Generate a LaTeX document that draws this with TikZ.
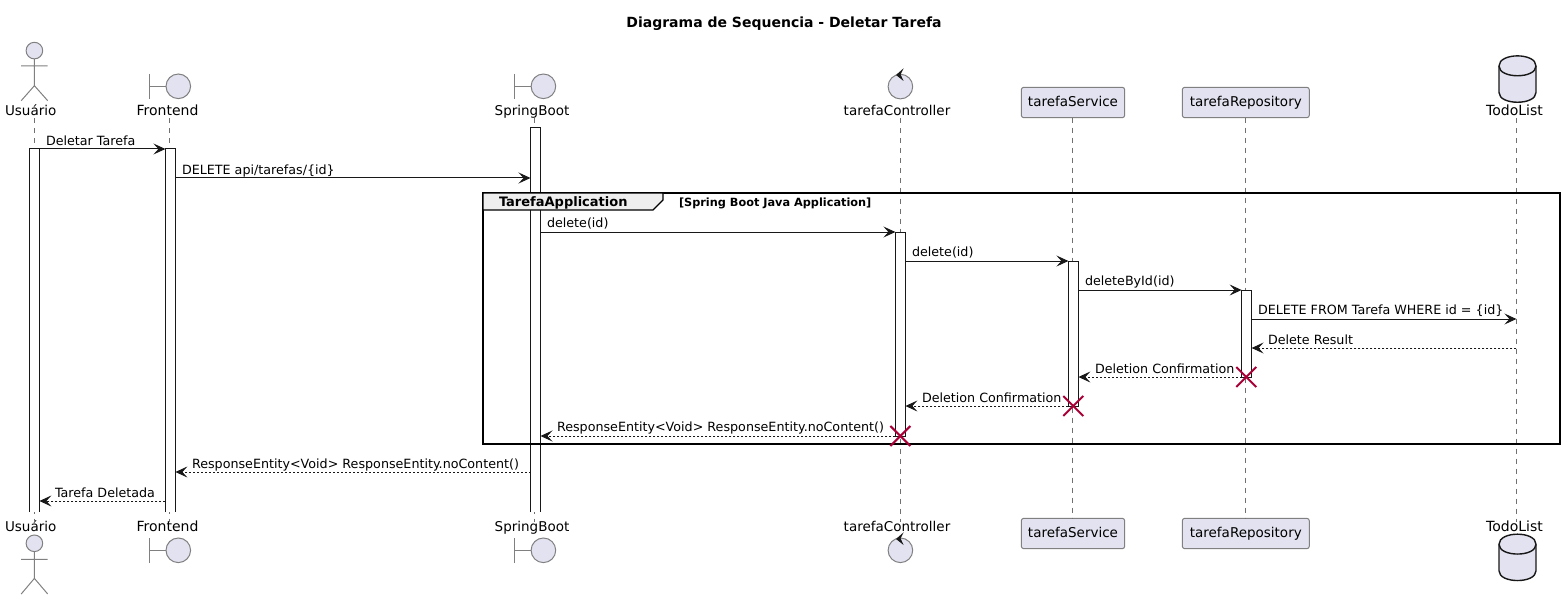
\documentclass[tikz,border=0pt]{standalone}
\usepackage{fontspec}
\setmainfont{DejaVu Sans}
\usetikzlibrary{arrows.meta}
\definecolor{partfill}{HTML}{E2E2F0}
\definecolor{partline}{HTML}{808080}
\definecolor{ink}{HTML}{181818}
\definecolor{lifegrey}{HTML}{707070}
\definecolor{killred}{HTML}{A80036}
\definecolor{tabfill}{HTML}{EEEEEE}
\tikzset{
  x=1pt,y=-1pt,
  every node/.style={inner sep=0pt,outer sep=0pt,text=black},
  parttext/.style={font=\fontsize{13.5}{16}\selectfont,anchor=base,text height=10pt,text depth=3pt},
  parttextwide/.style={parttext,font=\fontsize{14}{16}\selectfont},
  boxpart/.style={draw=partline,fill=partfill,rounded corners=2.5pt,line width=1pt,font=\fontsize{13.5}{16}\selectfont,anchor=center,text depth=2pt,text height=10pt},
  figline/.style={draw=partline,line width=1pt},
  figfill/.style={draw=partline,fill=partfill,line width=1pt},
  lifeline/.style={draw=lifegrey,line width=1pt,dash pattern=on 5pt off 5pt},
  bar/.style={draw=ink,fill=white,line width=1pt,minimum width=10pt,anchor=north},
  openbar/.style={fill=white,minimum width=10pt,anchor=north},
  barside/.style={draw=ink,line width=1pt},
  msg/.style={draw=ink,line width=1pt,-{Stealth[length=12pt,width=11pt,inset=5pt,color=ink]}},
  ret/.style={msg,dash pattern=on 2pt off 2pt},
  msgtext/.style={font=\fontsize{12.7}{15}\selectfont,anchor=base west},
  kill/.style={draw=killred,line width=2pt},
}
\begin{document}
\begin{tikzpicture}
\useasboundingbox (0,0) rectangle (1564,599);
\node[font=\fontsize{14}{16}\selectfont\bfseries,anchor=base] (title) at (784,28) {Diagrama de Sequencia - Deletar Tarefa};

% head labels and boxes
\node[parttext] (uT) at (30.7,115.5) {Usuário};
\node[parttextwide] (fT) at (167.5,115.5) {Frontend};
\node[parttext] (sT) at (532,115.5) {SpringBoot};
\node[parttext] (cT) at (897,115.5) {tarefaController};
\node[boxpart,minimum width=103.4pt,minimum height=30.4pt] (rT) at (1073,102.5) {tarefaService};
\node[boxpart,minimum width=127pt,minimum height=30.4pt] (pT) at (1245.8,102.5) {tarefaRepository};
\node[parttextwide] (dT) at (1514.5,115.5) {TodoList};
\node[parttext] (uB) at (30.7,531.5) {Usuário};
\node[parttextwide] (fB) at (167.5,531.5) {Frontend};
\node[parttext] (sB) at (532,531.5) {SpringBoot};
\node[parttext] (cB) at (897,531.5) {tarefaController};
\node[boxpart,minimum width=103.4pt,minimum height=30.4pt] (rB) at (1073,533.5) {tarefaService};
\node[boxpart,minimum width=127pt,minimum height=30.4pt] (pB) at (1245.8,533.5) {tarefaRepository};
\node[parttextwide] (dB) at (1514.5,531.5) {TodoList};

% lifelines
\coordinate (lU) at (34.4,0);
\coordinate (lF) at (169.4,0);
\coordinate (lS) at (534.4,0);
\coordinate (lC) at (900.4,0);
\coordinate (lR) at (1072.4,0);
\coordinate (lP) at (1245.4,0);
\coordinate (lD) at (1516.4,0);
\draw[lifeline] (lU|-uT.south) -- (lU|-uB.north);
\draw[lifeline] (lF|-fT.south) -- (lF|-fB.north);
\draw[lifeline] (lS|-sT.south) -- (lS|-sB.north);
\draw[lifeline] (lC|-cT.south) -- (lC|-cB.north);
\draw[lifeline] (lR|-rT.south) -- (lR|-rB.north);
\draw[lifeline] (lP|-pT.south) -- (lP|-pB.north);
\draw[lifeline] (lD|-dT.south) -- (lD|-dB.north);

% activation bars (the three outer ones stay open at the bottom)
\node[openbar,minimum height=363pt] (aU) at (34.4,149) {};
\draw[barside] (aU.south west) -- (aU.north west) -- (aU.north east) -- (aU.south east);
\node[openbar,minimum height=363pt] (aF) at (170.4,149) {};
\draw[barside] (aF.south west) -- (aF.north west) -- (aF.north east) -- (aF.south east);
\node[openbar,minimum height=384pt] (aS) at (535.5,128) {};
\draw[barside] (aS.south west) -- (aS.north west) -- (aS.north east) -- (aS.south east);
\node[bar,minimum height=204pt] (aC) at (900.4,232) {};
\node[bar,minimum height=145pt] (aR) at (1073.4,261) {};
\node[bar,minimum height=87pt] (aP) at (1246.6,290) {};

% group frame
\node[draw=black,line width=1.6pt,minimum width=1077pt,minimum height=251pt,anchor=north west] (grp) at (483,193) {};
\draw[draw=black,line width=1.4pt,fill=tabfill] (grp.north west) -- (663,193) -- (663,200) -- (653,210) -- (483,210) -- cycle;
\node[font=\fontsize{13}{15}\selectfont\bfseries,anchor=base west] (grpT) at (499,207) {TarefaApplication};
\node[font=\fontsize{11.3}{13}\selectfont\bfseries,anchor=base west] (grpG) at (679,206) {[Spring Boot Java Application]};

% messages
\draw[msg] (aU.east|-0,149) -- (aF.west|-0,149);
\node[msgtext] at (46,145.5) {Deletar Tarefa};
\draw[msg] (aF.east|-0,178) -- (aS.west|-0,178);
\node[msgtext] at (182,174.5) {DELETE api/tarefas/\{id\}};
\draw[msg] (aS.east|-0,232) -- (aC.west|-0,232);
\node[msgtext] at (547,227.5) {delete(id)};
\draw[msg] (aC.east|-0,261) -- (aR.west|-0,261);
\node[msgtext] at (912,256.5) {delete(id)};
\draw[msg] (aR.east|-0,290) -- (aP.west|-0,290);
\node[msgtext] at (1085,285.5) {deleteById(id)};
\draw[msg] (aP.east|-0,319) -- (lD|-0,319);
\node[msgtext] at (1258,314.5) {DELETE FROM Tarefa WHERE id = \{id\}};
\draw[ret] (lD|-0,348) -- (aP.east|-0,348);
\node[msgtext] at (1268,344.5) {Delete Result};
\draw[ret] (aP.west|-0,377) -- (aR.east|-0,377);
\node[msgtext] at (1095,373.5) {Deletion Confirmation};
\draw[ret] (aR.west|-0,406) -- (aC.east|-0,406);
\node[msgtext] at (922,402.5) {Deletion Confirmation};
\draw[ret] (aC.west|-0,436) -- (aS.east|-0,436);
\node[msgtext] at (557,431.5) {ResponseEntity<Void> ResponseEntity.noContent()};
\draw[ret] (aS.west|-0,472) -- (aF.east|-0,472);
\node[msgtext] at (192,468.5) {ResponseEntity<Void> ResponseEntity.noContent()};
\draw[ret] (aF.west|-0,501) -- (aU.east|-0,501);
\node[msgtext] at (55,497.5) {Tarefa Deletada};

% destroy marks
\draw[kill] (1236.3,367) -- (1256.3,387) (1256.3,367) -- (1236.3,387);
\draw[kill] (1063.3,396) -- (1083.3,416) (1083.3,396) -- (1063.3,416);
\draw[kill] (890.4,426) -- (910.4,446) (910.4,426) -- (890.4,446);

% actor figures
\draw[figfill] (34.4,50.6) circle [radius=8.3];
\draw[figline] (34.4,58.9) -- (34.4,85.7) (21.2,66) -- (47.7,66) (21.2,100.7) -- (34.4,85.7) -- (47.7,100.7);
\draw[figfill] (34.4,543.3) circle [radius=8.3];
\draw[figline] (34.4,551.6) -- (34.4,578.4) (21.2,559.3) -- (47.7,559.3) (21.2,594) -- (34.4,578.4) -- (47.7,594);

% boundary figures
\draw[figline] (149.3,74) -- (149.3,98.7) (149.3,86.3) -- (166,86.3);
\draw[figfill] (178.3,86.3) circle [radius=12.3];
\draw[figline] (149.3,538) -- (149.3,562.6) (149.3,550.3) -- (166,550.3);
\draw[figfill] (178.3,550.3) circle [radius=12.3];
\draw[figline] (514.6,74) -- (514.6,98.7) (514.6,86.3) -- (531.2,86.3);
\draw[figfill] (543.4,86.3) circle [radius=12.3];
\draw[figline] (514.6,538) -- (514.6,562.6) (514.6,550.3) -- (531.2,550.3);
\draw[figfill] (543.4,550.3) circle [radius=12.3];

% control figures
\draw[figfill] (900.4,86.6) circle [radius=12.3];
\fill[ink] (896,75) -- (903.6,68.3) -- (900.6,74.5) -- (903.6,81) -- cycle;
\draw[figfill] (900.4,550.3) circle [radius=12.3];
\fill[ink] (896,539) -- (903.6,532.3) -- (900.6,538.5) -- (903.6,545) -- cycle;

% database figures
\draw[draw=ink,fill=partfill,line width=1.4pt] (1499,66) .. controls (1499,52.5) and (1536,52.5) .. (1536,66) -- (1536,92.5) .. controls (1536,105.5) and (1499,105.5) .. (1499,92.5) -- cycle;
\draw[draw=ink,line width=1.4pt] (1499,66) .. controls (1499,79) and (1536,79) .. (1536,66);
\draw[draw=ink,fill=partfill,line width=1.4pt] (1499,544.3) .. controls (1499,530.8) and (1536,530.8) .. (1536,544.3) -- (1536,570.8) .. controls (1536,583.8) and (1499,583.8) .. (1499,570.8) -- cycle;
\draw[draw=ink,line width=1.4pt] (1499,544.3) .. controls (1499,557.3) and (1536,557.3) .. (1536,544.3);
\end{tikzpicture}
\end{document}
